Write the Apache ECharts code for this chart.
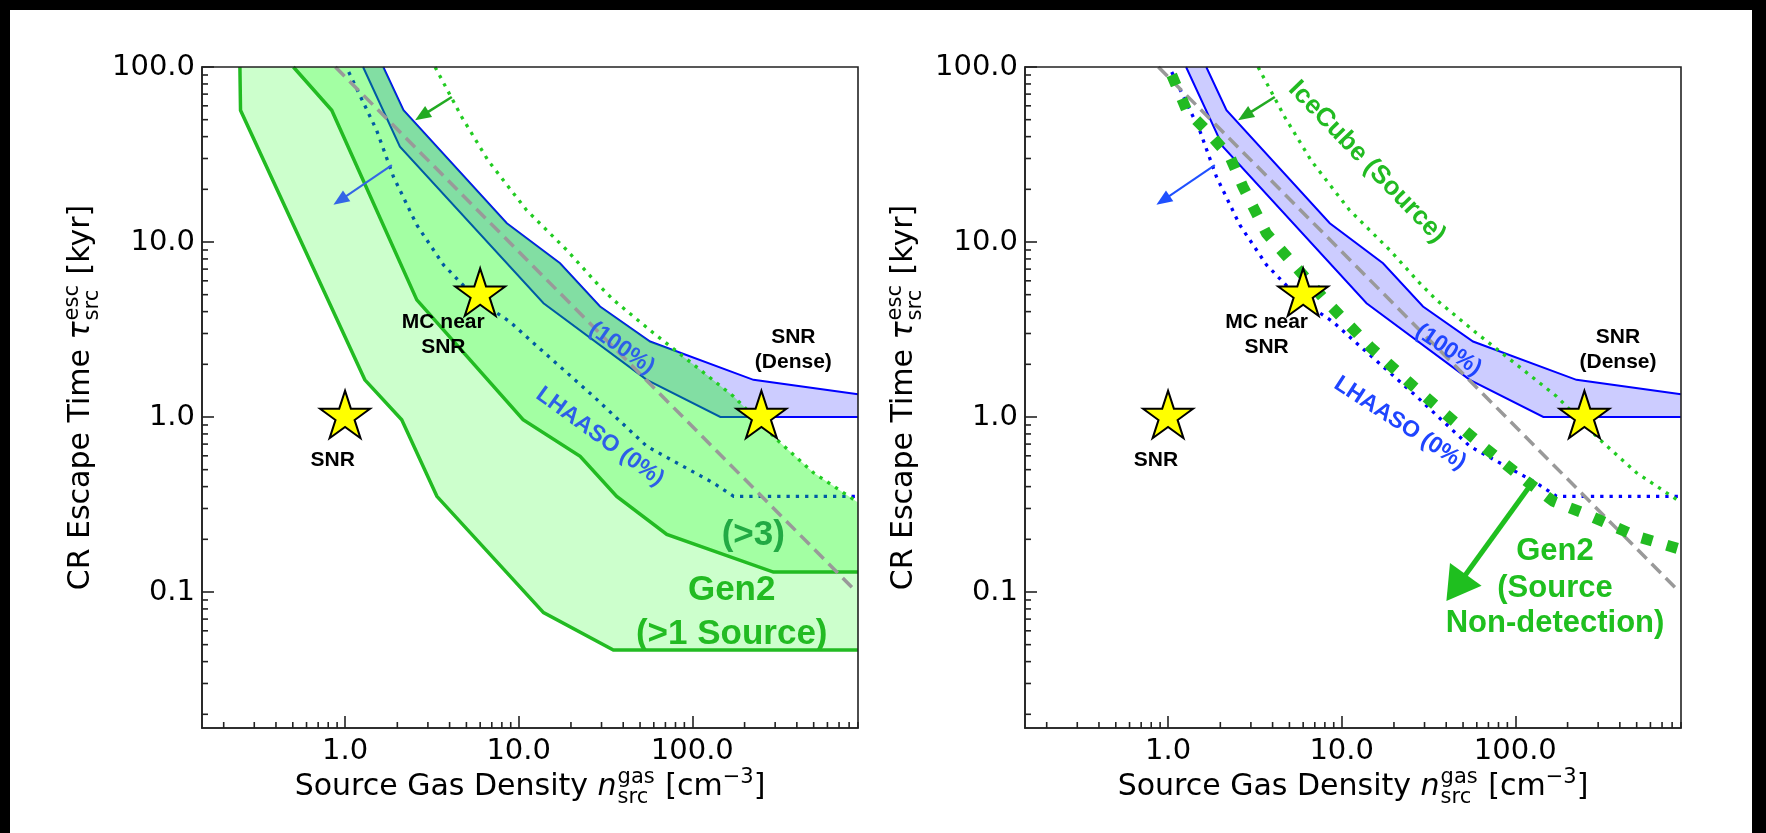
<!DOCTYPE html>
<html><head><meta charset="utf-8">
<script src="https://cdn.jsdelivr.net/npm/echarts@6/dist/echarts.min.js"></script>
<style>html,body{margin:0;padding:0;background:#fff;} #c{width:1766px;height:833px;}</style>
</head><body><div id="c"></div>
<script>
// ---------------- data (x: source gas density [cm^-3], y: escape time [kyr]) ----------------
const X_MIN = 0.15, X_MAX = 900;
const Y_MIN = 0.0167, Y_MAX = 100;
const xMinorTicks = [0.2,0.3,0.4,0.5,0.6,0.7,0.8,0.9,2,3,4,5,6,7,8,9,20,30,40,50,60,70,80,90,200,300,400,500,600,700,800,900];
const yMinorTicks = [0.02,0.03,0.04,0.05,0.06,0.07,0.08,0.09,0.2,0.3,0.4,0.5,0.6,0.7,0.8,0.9,2,3,4,5,6,7,8,9,20,30,40,50,60,70,80,90];

// Gen2 ">1 source" boundary
const gen2OneSource = [[0.248,100],[0.25,56.6],[1.30,1.63],[2.12,0.965],[3.38,0.352],[13.9,0.0762],[35.1,0.0466],[900,0.0466]];
// Gen2 ">3 sources" boundary
const gen2ThreeSources = [[0.504,100],[0.838,56.6],[2.59,4.67],[10.6,0.965],[22.6,0.596],[36.7,0.352],[71.3,0.213],[293,0.130],[900,0.130]];
// upper edge of the Gen2 shaded region
const gen2Ceiling = [[1.66,100],[2.17,56.6],[8.54,12.8],[17.3,7.56],[29.4,4.28],[57.1,2.70],[80,2.39],[111,1.86],[173,1.31],[307,0.742],[499,0.48],[900,0.325]];
// LHAASO (100%) band
const lhaaso100Upper = [[1.66,100],[2.17,56.6],[8.54,12.8],[17.3,7.56],[29.4,4.28],[57.1,2.70],[225,1.63],[900,1.35]];
const lhaaso100Lower = [[1.27,100],[2.07,35.0],[13.9,4.47],[54.7,1.63],[145,1.0],[900,1.0]];
// LHAASO (0%)
const lhaaso0 = [[1.05,93.6],[1.52,43.5],[1.90,23.6],[2.59,12.5],[3.69,7.4],[5.74,4.7],[8.9,3.5],[12.2,2.64],[27,1.31],[54.7,0.68],[132,0.42],[173,0.352],[900,0.352]];
// IceCube (Source)
const icecube = [[3.3,100],[4.7,51.8],[6.7,29],[11.1,15.2],[18.9,9.0],[28.2,5.81],[35.1,4.67],[59.7,3.02],[111,1.86],[173,1.31],[307,0.742],[499,0.48],[900,0.325]];
// gray dashed reference line
const grayRef = [[0.88,100],[850,0.104]];
// Gen2 (Source Non-detection)
const gen2NonDetection = [[1.05,90],[1.28,56.6],[1.66,43.5],[2.27,30.7],[2.70,20.7],[3.69,11.2],[5.02,7.9],[8.17,4.57],[14.5,2.53],[25.8,1.50],[35.2,1.15],[65.3,0.68],[116,0.43],[165,0.33],[246,0.283],[499,0.208],[900,0.175]];
// sources (stars)
const sources = [[1,1],[6,5],[250,1]];
// arrows [tail, tip]
const arrowIceCube = [[4.12,67.4],[2.53,49.7]];
const arrowLhaaso = [[1.86,27.5],[0.857,16.3]];
const arrowGen2 = [[121,0.402],[40.1,0.0887]];

// ---------------- layout ----------------
const GRIDS = [{left:202, top:67, width:656, height:661},{left:1025, top:67, width:656, height:661}];
const AXC = '#222';
const TICKFONT = 'DejaVu Sans';
const ANNFONT = 'Liberation Sans, Arial, Helvetica, sans-serif';
const STAR = 'path://M0,-50 L11.2,-15.5 L47.6,-15.5 L18.2,5.9 L29.4,40.5 L0,19.1 L-29.4,40.5 L-18.2,5.9 L-47.6,-15.5 L-11.2,-15.5 Z';

const fmt = v => Number(v).toFixed(1);

function xAxis(gi){
  return {type:'log', gridIndex:gi, min:X_MIN, max:X_MAX, logBase:10, splitNumber:5,
    axisLine:{show:true, onZero:false, lineStyle:{color:AXC, width:1.6}},
    axisTick:{show:true, inside:true, length:12, lineStyle:{color:AXC, width:1.6}},
    axisLabel:{show:true, showMinLabel:false, showMaxLabel:false, formatter:fmt, fontFamily:TICKFONT, fontSize:29, color:'#000', margin:9},
    splitLine:{show:false}, minorTick:{show:false}, z:10};
}
function yAxis(gi){
  return {type:'log', gridIndex:gi, min:Y_MIN, max:Y_MAX, logBase:10, splitNumber:5,
    axisLine:{show:true, onZero:false, lineStyle:{color:AXC, width:1.6}},
    axisTick:{show:true, inside:true, length:12, lineStyle:{color:AXC, width:1.6}},
    axisLabel:{show:true, showMinLabel:false, formatter:fmt, fontFamily:TICKFONT, fontSize:29, color:'#000', margin:7},
    splitLine:{show:false}, minorTick:{show:false}, z:10};
}

function polygon(gi, pts, fill, z){
  return {type:'custom', coordinateSystem:'cartesian2d', xAxisIndex:gi, yAxisIndex:gi, z, silent:true, animation:false,
    data:[pts[0]],
    renderItem:(p, api)=>({type:'polygon', shape:{points: pts.map(q=>api.coord(q))}, style:{fill}})};
}
function line(gi, pts, color, width, type, z, cap){
  return {type:'line', xAxisIndex:gi, yAxisIndex:gi, data:pts, showSymbol:false, symbol:'none', silent:true, animation:false,
    z, lineStyle:{color, width, type, cap: cap||'butt', join:'miter'}};
}
function arrow(gi, seg, color, width, headLen, headW, z){
  return {type:'custom', coordinateSystem:'cartesian2d', xAxisIndex:gi, yAxisIndex:gi, z, silent:true, animation:false,
    data:[seg[0]],
    renderItem:(p, api)=>{
      const a = api.coord(seg[0]), b = api.coord(seg[1]);
      const dx=b[0]-a[0], dy=b[1]-a[1], L=Math.hypot(dx,dy), ux=dx/L, uy=dy/L;
      const bx=b[0]-ux*headLen, by=b[1]-uy*headLen;
      return {type:'group', children:[
        {type:'line', shape:{x1:a[0], y1:a[1], x2:bx+ux*1, y2:by+uy*1}, style:{stroke:color, lineWidth:width}},
        {type:'polygon', shape:{points:[b,[bx-uy*headW/2, by+ux*headW/2],[bx+uy*headW/2, by-ux*headW/2]]}, style:{fill:color}}
      ]};
    }};
}
function minorTicks(gi){
  return [
    {type:'custom', coordinateSystem:'cartesian2d', xAxisIndex:gi, yAxisIndex:gi, z:10, silent:true, animation:false,
      data: xMinorTicks.map(v=>[v, Y_MIN]),
      renderItem:(p, api)=>{const c=api.coord([api.value(0), Y_MIN]);
        return {type:'line', shape:{x1:c[0], y1:c[1], x2:c[0], y2:c[1]-6}, style:{stroke:AXC, lineWidth:1.6}};}},
    {type:'custom', coordinateSystem:'cartesian2d', xAxisIndex:gi, yAxisIndex:gi, z:10, silent:true, animation:false,
      data: yMinorTicks.map(v=>[X_MIN, v]),
      renderItem:(p, api)=>{const c=api.coord([X_MIN, api.value(1)]);
        return {type:'line', shape:{x1:c[0], y1:c[1], x2:c[0]+6, y2:c[1]}, style:{stroke:AXC, lineWidth:1.6}};}}
  ];
}
function stars(gi){
  return {type:'scatter', xAxisIndex:gi, yAxisIndex:gi, data:sources, symbol:STAR, symbolSize:[50,47.5], symbolOffset:[0,-2.5],
    itemStyle:{color:'#ffff00', borderColor:'#000', borderWidth:2, opacity:1}, z:8, silent:true, animation:false};
}

const GREEN_FILL = 'rgba(0,255,0,0.2)';
const BLUE_FILL = 'rgba(0,0,255,0.2)';
const GREEN_LINE = '#22bb22';
const BLUE = '#0000ff';

const bandPoly = lhaaso100Upper.concat(lhaaso100Lower.slice().reverse());
const oneSrcPoly = gen2OneSource.concat(gen2Ceiling.slice().reverse());
const threeSrcPoly = gen2ThreeSources.concat(gen2Ceiling.slice().reverse());

const series = [
  // ----- left panel -----
  polygon(0, bandPoly, BLUE_FILL, 1),
  line(0, lhaaso100Upper, BLUE, 2, 'solid', 1),
  line(0, lhaaso100Lower, BLUE, 2, 'solid', 1),
  line(0, lhaaso0, BLUE, 3.3, [3.3,6], 1),
  polygon(0, oneSrcPoly, GREEN_FILL, 2),
  polygon(0, threeSrcPoly, GREEN_FILL, 2),
  line(0, gen2OneSource, GREEN_LINE, 3.5, 'solid', 3),
  line(0, gen2ThreeSources, GREEN_LINE, 3.5, 'solid', 3),
  line(0, grayRef, '#999999', 3.5, [13,7], 3),
  line(0, icecube, '#22cc22', 3.3, [3.3,6], 3),
  arrow(0, arrowIceCube, '#22aa22', 2.5, 16, 13, 4),
  arrow(0, arrowLhaaso, '#3366e6', 2, 16, 13, 4),
  stars(0),
  ...minorTicks(0),
  // ----- right panel -----
  polygon(1, bandPoly, BLUE_FILL, 1),
  line(1, lhaaso100Upper, BLUE, 2, 'solid', 1),
  line(1, lhaaso100Lower, BLUE, 2, 'solid', 1),
  line(1, lhaaso0, BLUE, 3.3, [3.3,6], 2),
  line(1, grayRef, '#999999', 3.5, [13,7], 3),
  line(1, icecube, '#22cc22', 3.3, [3.3,6], 3),
  line(1, gen2NonDetection, '#22bb22', 11, [11,15], 4),
  arrow(1, arrowIceCube, '#22aa22', 2.5, 16, 13, 4),
  arrow(1, arrowLhaaso, '#1f50ff', 2, 16, 13, 4),
  arrow(1, arrowGen2, '#1fbf1f', 5, 33, 39, 5),
  stars(1),
  ...minorTicks(1)
];

// ---------------- text helpers ----------------
const mctx = document.createElement('canvas').getContext('2d');
function tw(text, font){ mctx.font = font; return mctx.measureText(text).width; }
function txt(x, y, text, font, fill, opts){
  opts = opts || {};
  return {type:'text', x, y, rotation: opts.rotation || 0, z: opts.z || 20, silent:true,
    style:{text, font, fill, align: opts.align || 'center', textAlign: opts.align || 'center',
      verticalAlign: opts.va || 'middle', textVerticalAlign: opts.va || 'middle'}};
}
// math-like label: parts = [{t, f}] or {stack, sup, sub}
function mathLabel(cx, cy, rotation, parts){
  const base = "30px 'DejaVu Sans'", small = "21px 'DejaVu Sans'", ital = "italic 30px 'DejaVu Sans'";
  const fonts = {n: base, i: ital, s: small};
  const widths = parts.map(p => p.stack ? Math.max(tw(p.sup||'', small), tw(p.sub||'', small)) + 2 : tw(p.t, fonts[p.f||'n']));
  const W = widths.reduce((a,b)=>a+b, 0);
  let x = -W/2; const children = [];
  parts.forEach((p, i) => {
    if (p.stack) {
      if (p.sup) children.push(txt(x+1, -9, p.sup, small, '#000', {align:'left'}));
      if (p.sub) children.push(txt(x+1, 11, p.sub, small, '#000', {align:'left'}));
    } else if (p.f === 's') {
      children.push(txt(x, -9, p.t, small, '#000', {align:'left'}));
    } else {
      children.push(txt(x, 0, p.t, fonts[p.f||'n'], '#000', {align:'left'}));
    }
    x += widths[i];
  });
  return {type:'group', x:cx, y:cy, rotation, silent:true, z:20, children};
}
const yTitleParts = [{t:'CR Escape Time '},{t:'τ', f:'i'},{stack:true, sup:'esc', sub:'src'},{t:' [kyr]'}];
const xTitleParts = [{t:'Source Gas Density '},{t:'n', f:'i'},{stack:true, sup:'gas', sub:'src'},{t:' [cm'},{t:'−3', f:'s'},{t:']'}];

const B = ANNFONT;
const f = (w, s) => `${w} ${s}px ${B}`;
const graphics = [
  // image frame
  {type:'rect', shape:{x:0,y:0,width:1766,height:10}, style:{fill:'#000'}, z:30, silent:true},
  {type:'rect', shape:{x:0,y:0,width:10,height:833}, style:{fill:'#000'}, z:30, silent:true},
  {type:'rect', shape:{x:1752,y:0,width:14,height:833}, style:{fill:'#000'}, z:30, silent:true},
  // axis titles
  mathLabel(81.5, 397.5, Math.PI/2, yTitleParts),
  mathLabel(904.5, 397.5, Math.PI/2, yTitleParts),
  mathLabel(530, 787, 0, xTitleParts),
  mathLabel(1353, 787, 0, xTitleParts),
  // left panel annotations
  txt(332.7, 460, 'SNR', f('bold',21), '#000'),
  txt(443.3, 322, 'MC near', f('bold',21), '#000'),
  txt(443.3, 347, 'SNR', f('bold',21), '#000'),
  txt(793.3, 337, 'SNR', f('bold',21), '#000'),
  txt(793.3, 362, '(Dense)', f('bold',21), '#000'),
  txt(621.7, 348.3, '(100%)', f('bold',23), '#2d5fe8', {rotation:-35*Math.PI/180}),
  txt(600, 436.7, 'LHAASO (0%)', f('bold',23), '#2d5fe8', {rotation:-36*Math.PI/180}),
  txt(753.3, 535, '(>3)', f('bold',35), '#22aa44'),
  txt(731.7, 590, 'Gen2', f('bold',35), '#22bb22'),
  txt(731.7, 634, '(>1 Source)', f('bold',35), '#22bb22'),
  // right panel annotations
  txt(1156, 460, 'SNR', f('bold',21), '#000'),
  txt(1266.6, 322, 'MC near', f('bold',21), '#000'),
  txt(1266.6, 347, 'SNR', f('bold',21), '#000'),
  txt(1618, 337, 'SNR', f('bold',21), '#000'),
  txt(1618, 362, '(Dense)', f('bold',21), '#000'),
  txt(1448.3, 350, '(100%)', f('bold',23), '#1f45ff', {rotation:-34*Math.PI/180}),
  txt(1400, 423.3, 'LHAASO (0%)', f('bold',23), '#1f45ff', {rotation:-33*Math.PI/180}),
  txt(1367, 162, 'IceCube (Source)', f('bold',26), '#22bb22', {rotation:-46*Math.PI/180}),
  txt(1555, 551.7, 'Gen2', f('bold',31), '#1fbf1f'),
  txt(1555, 588.3, '(Source', f('bold',31), '#1fbf1f'),
  txt(1555, 623.3, 'Non-detection)', f('bold',31), '#1fbf1f')
];

const chart = echarts.init(document.getElementById('c'), null, {renderer:'canvas', width:1766, height:833});
chart.setOption({
  backgroundColor:'#ffffff',
  animation:false,
  grid: GRIDS.map(g => Object.assign({show:true, borderColor:AXC, borderWidth:1.6, backgroundColor:'transparent', z:10, containLabel:false}, g)),
  xAxis:[xAxis(0), xAxis(1)],
  yAxis:[yAxis(0), yAxis(1)],
  series,
  graphic:{elements:graphics}
});
</script></body></html>
